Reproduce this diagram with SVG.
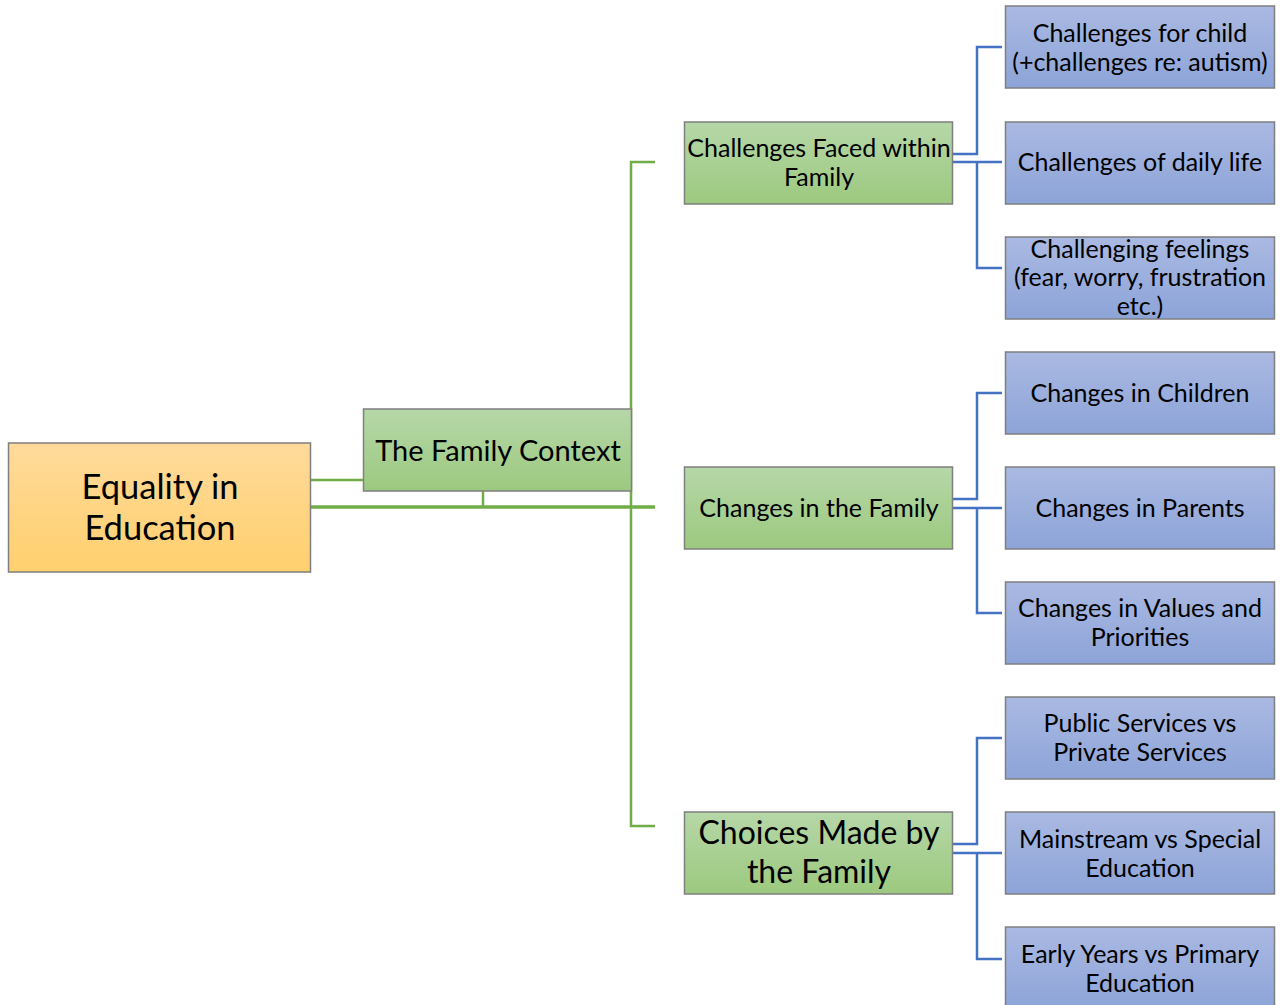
<svg xmlns="http://www.w3.org/2000/svg" width="1287" height="1005" viewBox="0 0 1287 1005">
  <defs>
    <linearGradient id="gOrange" x1="0" y1="0" x2="0" y2="1">
      <stop offset="0" stop-color="#FFDA9B"/>
      <stop offset="1" stop-color="#FFD06E"/>
    </linearGradient>
    <linearGradient id="gGreen" x1="0" y1="0" x2="0" y2="1">
      <stop offset="0" stop-color="#B6D7A8"/>
      <stop offset="1" stop-color="#9CC97F"/>
    </linearGradient>
    <linearGradient id="gBlue" x1="0" y1="0" x2="0" y2="1">
      <stop offset="0" stop-color="#AAB9E2"/>
      <stop offset="1" stop-color="#8DA4D8"/>
    </linearGradient>
    <style>
      .box { stroke: #7F7F7F; stroke-width: 1.5; }
      .root { fill: url(#gOrange); }
      .l2 { fill: url(#gGreen); }
      .l3 { fill: url(#gBlue); }
      text { font-family: Lato, "Open Sans", "Liberation Sans", sans-serif; fill: #000; text-anchor: middle; }
      .t3 { font-size: 25px; }
      .t2 { font-size: 25px; }
      .tfc { font-size: 29px; }
      .tch { font-size: 32px; }
      .troot { font-size: 34.5px; }
      .cg { stroke: #70AD47; stroke-width: 2.5; fill: none; }
      .cgt { stroke: #70AD47; stroke-width: 3.5; fill: none; }
      .cb { stroke: #4472C4; stroke-width: 2.5; fill: none; }
    </style>
  </defs>

  <!-- connectors -->
  <g id="connectors">
    <path class="cg" d="M311 480 H363"/>
    <path class="cgt" d="M311 507 H655"/>
    <path class="cg" d="M483 491 V507"/>
    <path class="cg" d="M655 162 H631 V507"/>
    <path class="cg" d="M655 826 H631 V507"/>

    <path class="cb" d="M952 154 H977 V47 H1002"/>
    <path class="cb" d="M952 162 H1002 M977 162 V268 H1002"/>

    <path class="cb" d="M952 499 H977 V393 H1002"/>
    <path class="cb" d="M952 508 H1002 M977 508 V613 H1002"/>

    <path class="cb" d="M952 844 H977 V738 H1002"/>
    <path class="cb" d="M952 853 H1002 M977 853 V959 H1002"/>
  </g>

  <!-- root -->
  <g id="equality">
    <rect class="box root" x="8.5" y="443" width="302" height="129"/>
    <text class="troot" x="160" y="499">Equality in</text>
    <text class="troot" x="160" y="540">Education</text>
  </g>

  <g id="family-context">
    <rect class="box l2" x="363.5" y="409" width="268" height="82"/>
    <text class="tfc" x="498" y="460.5">The Family Context</text>
  </g>

  <!-- second level -->
  <g id="challenges-faced">
    <rect class="box l2" x="684.5" y="122" width="268" height="82"/>
    <text class="t2" x="819" y="156.5">Challenges Faced within</text>
    <text class="t2" x="819" y="185.5">Family</text>
  </g>
  <g id="changes-family">
    <rect class="box l2" x="684.5" y="467" width="268" height="82"/>
    <text class="t2" x="819" y="516.5">Changes in the Family</text>
  </g>
  <g id="choices-family">
    <rect class="box l2" x="684.5" y="812" width="268" height="82"/>
    <text class="tch" x="819" y="844">Choices Made by</text>
    <text class="tch" x="819" y="883">the Family</text>
  </g>

  <!-- third level -->
  <g id="challenges-child">
    <rect class="box l3" x="1005.5" y="6" width="269" height="82"/>
    <text class="t3" x="1140" y="41.5">Challenges for child</text>
    <text class="t3" x="1140" y="70.5">(+challenges re: autism)</text>
  </g>
  <g id="challenges-daily">
    <rect class="box l3" x="1005.5" y="122" width="269" height="82"/>
    <text class="t3" x="1140" y="170.5">Challenges of daily life</text>
  </g>
  <g id="challenging-feelings">
    <rect class="box l3" x="1005.5" y="237" width="269" height="82"/>
    <text class="t3" x="1140" y="257.5">Challenging feelings</text>
    <text class="t3" x="1140" y="285.5">(fear, worry, frustration</text>
    <text class="t3" x="1140" y="314.5">etc.)</text>
  </g>
  <g id="changes-children">
    <rect class="box l3" x="1005.5" y="352" width="269" height="82"/>
    <text class="t3" x="1140" y="401.5">Changes in Children</text>
  </g>
  <g id="changes-parents">
    <rect class="box l3" x="1005.5" y="467" width="269" height="82"/>
    <text class="t3" x="1140" y="516.5">Changes in Parents</text>
  </g>
  <g id="changes-values">
    <rect class="box l3" x="1005.5" y="582" width="269" height="82"/>
    <text class="t3" x="1140" y="616.5">Changes in Values and</text>
    <text class="t3" x="1140" y="645.5">Priorities</text>
  </g>
  <g id="public-private">
    <rect class="box l3" x="1005.5" y="697" width="269" height="82"/>
    <text class="t3" x="1140" y="731.5">Public Services vs</text>
    <text class="t3" x="1140" y="760.5">Private Services</text>
  </g>
  <g id="mainstream-special">
    <rect class="box l3" x="1005.5" y="812" width="269" height="82"/>
    <text class="t3" x="1140" y="847.5">Mainstream vs Special</text>
    <text class="t3" x="1140" y="876.5">Education</text>
  </g>
  <g id="early-primary">
    <rect class="box l3" x="1005.5" y="927" width="269" height="82"/>
    <text class="t3" x="1140" y="962.5">Early Years vs Primary</text>
    <text class="t3" x="1140" y="991.5">Education</text>
  </g>
</svg>
